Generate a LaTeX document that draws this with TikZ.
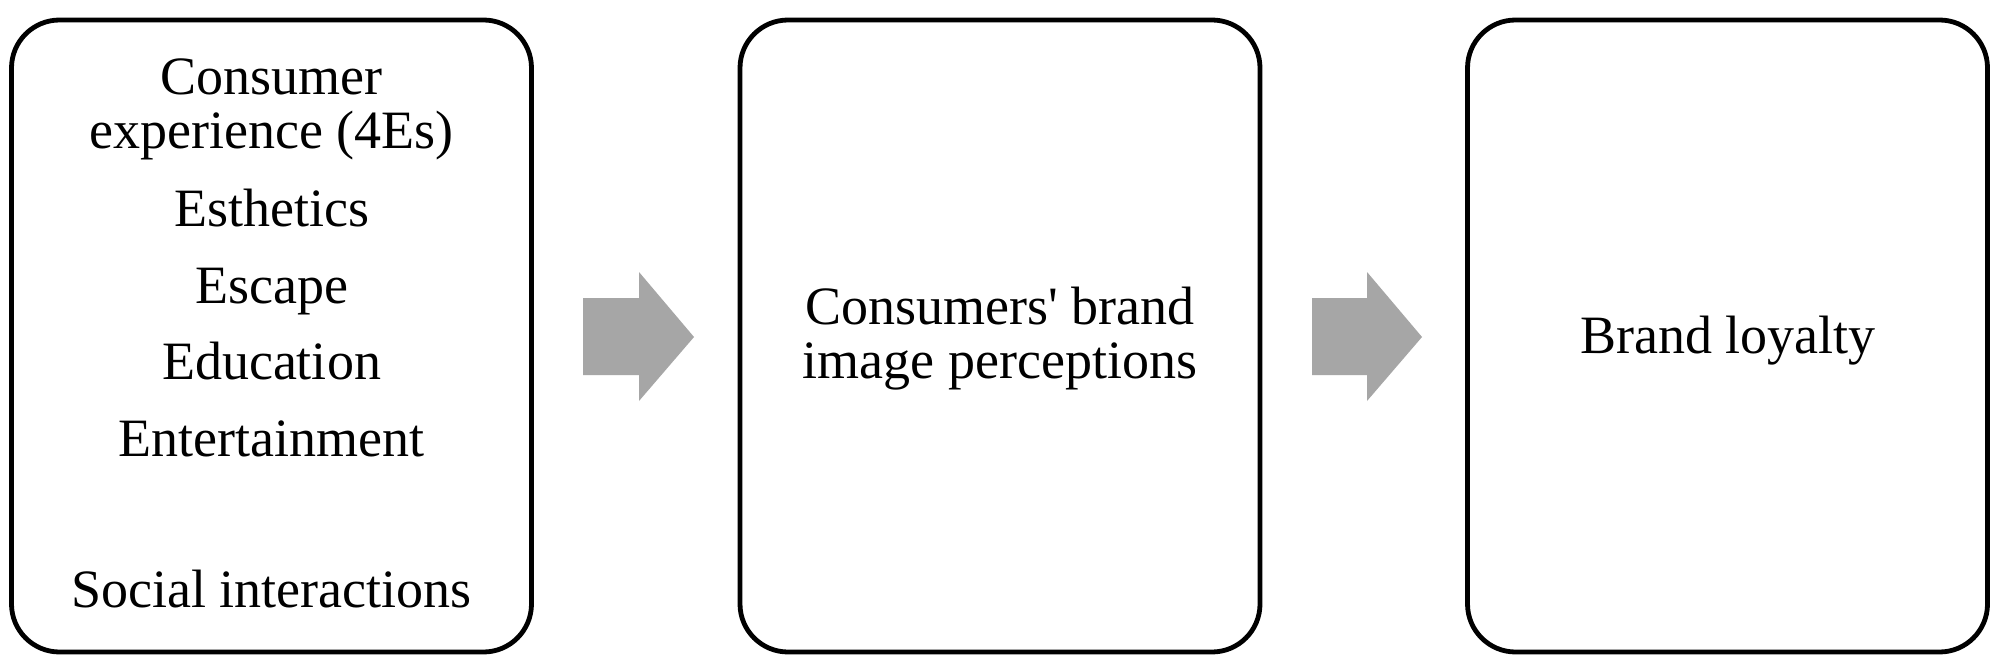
\documentclass[tikz,border=0pt]{standalone}
\usepackage{fontspec}
\setmainfont{Liberation Serif}
\begin{document}
\begin{tikzpicture}[x=0.5pt,y=-0.5pt,
  stagebox/.style={draw=black, line width=2.4pt, rounded corners=24pt, minimum width=260pt, minimum height=316pt, inner sep=0pt, outer sep=0pt, fill=white},
  txt/.style={anchor=base, inner sep=0pt, font=\fontsize{27pt}{27pt}\selectfont},
  blockarrow/.style={fill=arrowgray, draw=none}]
\definecolor{arrowgray}{RGB}{166,166,166}
\useasboundingbox (0,0) rectangle (2000,668);
\fill[white] (0,0) rectangle (2000,668);
% boxes
\node[stagebox] (b1) at (271.5,336) {};
\node[stagebox] (b2) at (1000,336) {};
\node[stagebox] (b3) at (1727.5,336) {};
% box 1 text
\node[txt] (t1a) at (271.5,95) {Consumer};
\node[txt] (t1b) at (271.5,149) {experience (4Es)};
\node[txt] (t1c) at (271.5,227) {Esthetics};
\node[txt] (t1d) at (271.5,303) {Escape};
\node[txt] (t1e) at (271.5,379) {Education};
\node[txt] (t1f) at (271.5,456) {Entertainment};
\node[txt] (t1g) at (271.5,607) {Social interactions};
% box 2 text
\node[txt] (t2a) at (1000,324) {Consumers\textquotesingle{} brand};
\node[txt] (t2b) at (1000,378) {image perceptions};
% box 3 text
\node[txt] (t3a) at (1728,353) {Brand loyalty};
% block arrows
\fill[blockarrow] (583,298) -- (639,298) -- (639,272) -- (694,337) -- (639,401) -- (639,375) -- (583,375) -- cycle;
\fill[blockarrow] (1312,298) -- (1367,298) -- (1367,272) -- (1422,337) -- (1367,401) -- (1367,375) -- (1312,375) -- cycle;
\end{tikzpicture}
\end{document}
